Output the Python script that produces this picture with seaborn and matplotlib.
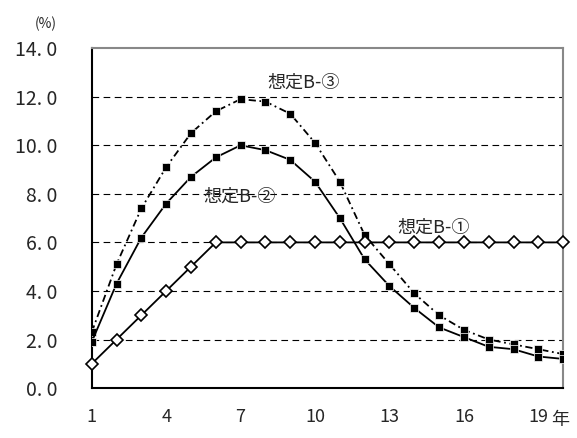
import numpy as np
import pandas as pd
import matplotlib
matplotlib.use("Agg")
import matplotlib.pyplot as plt
import seaborn as sns

years = list(range(1, 21))
b1 = [1.0, 2.0, 3.0, 4.0, 5.0, 6.0, 6.0, 6.0, 6.0, 6.0, 6.0, 6.0, 6.0, 6.0, 6.0, 6.0, 6.0, 6.0, 6.0, 6.0]
b2 = [1.9, 4.3, 6.2, 7.6, 8.7, 9.5, 10.0, 9.8, 9.4, 8.5, 7.0, 5.3, 4.2, 3.3, 2.5, 2.1, 1.7, 1.6, 1.3, 1.2]
b3 = [2.3, 5.1, 7.4, 9.1, 10.5, 11.4, 11.9, 11.8, 11.3, 10.1, 8.5, 6.3, 5.1, 3.9, 3.0, 2.4, 2.0, 1.8, 1.6, 1.4]
xtick_years = [1, 4, 7, 10, 13, 16, 19]
yticks = [0, 2, 4, 6, 8, 10, 12, 14]

sns.set_style("white")
plt.rcParams['font.family'] = ['Noto Sans CJK JP', 'DejaVu Sans']

fig = plt.figure(figsize=(5.77, 4.38), dpi=100)
ax = fig.add_axes([0.159, 0.114, 0.817, 0.776])

df = pd.DataFrame({"year": years, "b1": b1, "b2": b2, "b3": b3})
sns.lineplot(data=df, x="year", y="b3", ax=ax, color="black", lw=1.3,
             linestyle=(0, (4, 2, 1, 2)), marker="s", markersize=5.5,
             markerfacecolor="black", markeredgecolor="white", markeredgewidth=0.5, zorder=4)
sns.lineplot(data=df, x="year", y="b2", ax=ax, color="black", lw=1.3,
             marker="s", markersize=5.5, markerfacecolor="black",
             markeredgecolor="white", markeredgewidth=0.5, zorder=4)
sns.lineplot(data=df, x="year", y="b1", ax=ax, color="black", lw=1.3,
             marker="D", markersize=6.5, markerfacecolor="white",
             markeredgecolor="black", markeredgewidth=1.2, zorder=5, clip_on=False)

ax.set_xlim(1, 20)
ax.set_ylim(0, 14)
for y in yticks[1:-1]:
    ax.axhline(y, color="black", lw=0.8, ls=(0, (6, 4)), zorder=1)
ax.set_yticks(yticks)
ax.set_yticklabels([f"{v:.1f}".replace(".", ". ") for v in yticks], fontsize=14)
ax.set_xticks(years, minor=True)
ax.set_xticks(xtick_years)
ax.set_xticklabels([str(v) for v in xtick_years], fontsize=13)
ax.tick_params(axis="x", which="both", direction="in", length=5, pad=14)
ax.tick_params(axis="y", length=0, pad=25)
ax.set_xlabel("")
ax.set_ylabel("")
for s in ["left", "bottom"]:
    ax.spines[s].set_color("black")
    ax.spines[s].set_linewidth(1.5)
for s in ["top", "right"]:
    ax.spines[s].set_color("#888888")
    ax.spines[s].set_linewidth(1.5)

ax.text(8.1, 12.6, "想定B-③", fontsize=13, va="center")
ax.text(5.5, 7.9, "想定B-②", fontsize=13, va="center")
ax.text(13.3, 6.6, "想定B-①", fontsize=13, va="center")
fig.text(0.06, 0.935, "(%)", fontsize=10)
fig.text(0.955, 0.03, "年", fontsize=13)

fig.savefig("out.png", dpi=100)
